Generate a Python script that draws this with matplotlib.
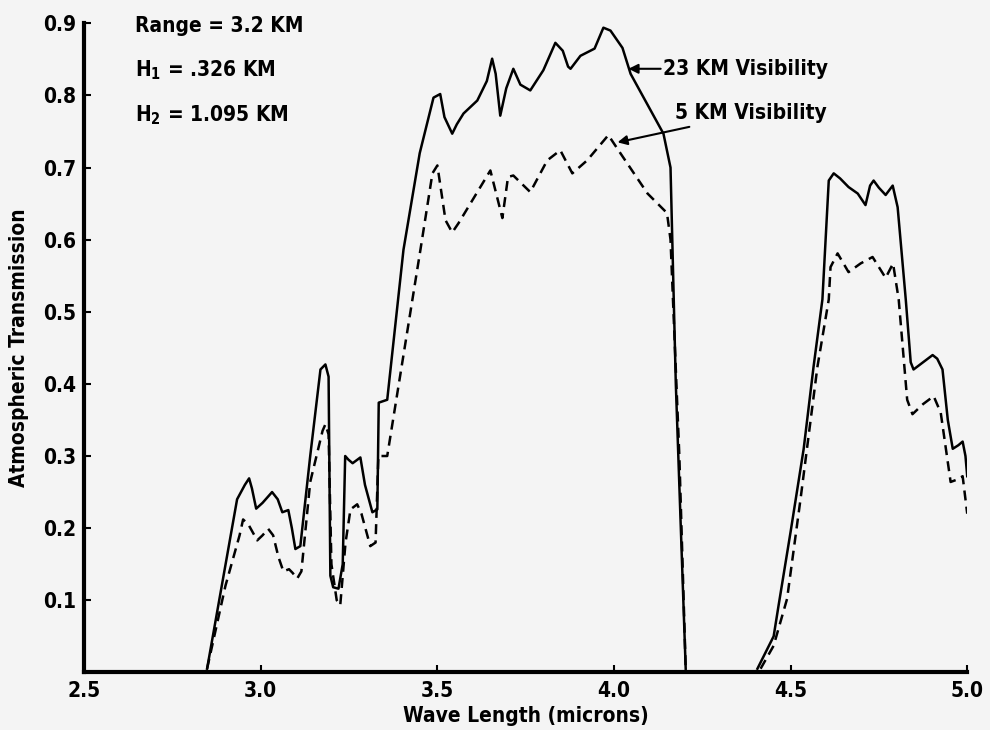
import matplotlib
matplotlib.use("Agg")
import matplotlib.pyplot as plt

plt.rcParams['font.family'] = ['DejaVu Sans']
plt.rcParams['font.stretch'] = 'condensed'
plt.rcParams['font.weight'] = 'bold'
plt.rcParams['axes.labelweight'] = 'bold'
plt.rcParams['mathtext.fontset'] = 'custom'
plt.rcParams['mathtext.rm'] = 'DejaVu Sans:bold:stretch=condensed'
plt.rcParams['mathtext.default'] = 'rm'

# 23 km visibility, first window (solid)
wl_23a = [2.848, 2.933, 2.955, 2.967, 2.975, 2.987, 3.005, 3.032, 3.048, 3.061,
          3.078, 3.088, 3.098, 3.112, 3.140, 3.169, 3.183, 3.192, 3.197, 3.205,
          3.220, 3.232, 3.239, 3.248, 3.260, 3.282, 3.295, 3.316, 3.330, 3.334,
          3.358, 3.404, 3.450, 3.489, 3.508, 3.520, 3.542, 3.555, 3.574, 3.613,
          3.640, 3.655, 3.665, 3.678, 3.695, 3.715, 3.735, 3.763, 3.800, 3.834,
          3.855, 3.870, 3.877, 3.905, 3.945, 3.970, 3.990, 4.024, 4.047, 4.140,
          4.160, 4.175, 4.203]
tr_23a = [0.005, 0.240, 0.260, 0.269, 0.255, 0.227, 0.235, 0.250, 0.240, 0.222,
          0.225, 0.200, 0.171, 0.175, 0.300, 0.420, 0.427, 0.410, 0.134, 0.118,
          0.116, 0.150, 0.300, 0.295, 0.290, 0.298, 0.260, 0.222, 0.226, 0.374,
          0.378, 0.586, 0.720, 0.797, 0.802, 0.770, 0.747, 0.760, 0.775, 0.793,
          0.820, 0.851, 0.830, 0.772, 0.810, 0.837, 0.815, 0.807, 0.835, 0.873,
          0.862, 0.840, 0.837, 0.855, 0.865, 0.894, 0.890, 0.866, 0.830, 0.747,
          0.700, 0.400, 0.005]

# 5 km visibility, first window (dashed)
wl_5a = [2.848, 2.900, 2.940, 2.950, 2.965, 2.990, 3.005, 3.021, 3.035, 3.050,
         3.064, 3.080, 3.090, 3.103, 3.115, 3.140, 3.175, 3.183, 3.192, 3.200,
         3.215, 3.225, 3.240, 3.254, 3.273, 3.285, 3.310, 3.325, 3.333, 3.358,
         3.452, 3.486, 3.500, 3.523, 3.542, 3.560, 3.650, 3.684, 3.700, 3.715,
         3.763, 3.811, 3.848, 3.882, 3.924, 3.984, 4.018, 4.095, 4.150, 4.160,
         4.185, 4.203]
tr_5a = [0.005, 0.120, 0.190, 0.212, 0.205, 0.183, 0.190, 0.199, 0.190, 0.160,
         0.140, 0.143, 0.138, 0.130, 0.140, 0.264, 0.335, 0.344, 0.330, 0.150,
         0.100, 0.093, 0.180, 0.226, 0.233, 0.220, 0.175, 0.180, 0.300, 0.300,
         0.586, 0.692, 0.703, 0.627, 0.610, 0.623, 0.696, 0.630, 0.687, 0.689,
         0.666, 0.710, 0.724, 0.692, 0.710, 0.745, 0.720, 0.664, 0.637, 0.600,
         0.300, 0.005]

# 23 km visibility, second window (solid)
wl_23b = [4.406, 4.452, 4.466, 4.500, 4.537, 4.565, 4.590, 4.608, 4.622, 4.640,
          4.664, 4.690, 4.712, 4.725, 4.735, 4.750, 4.769, 4.789, 4.803, 4.826,
          4.840, 4.848, 4.875, 4.902, 4.915, 4.930, 4.945, 4.959, 4.975, 4.987,
          4.995, 5.000]
tr_23b = [0.005, 0.050, 0.093, 0.195, 0.310, 0.424, 0.517, 0.682, 0.692, 0.685,
          0.673, 0.664, 0.648, 0.675, 0.682, 0.672, 0.662, 0.675, 0.645, 0.517,
          0.430, 0.420, 0.430, 0.440, 0.435, 0.420, 0.350, 0.310, 0.315, 0.320,
          0.300, 0.272]

# 5 km visibility, second window (dashed)
wl_5b = [4.415, 4.452, 4.490, 4.528, 4.576, 4.608, 4.613, 4.633, 4.664, 4.698,
         4.732, 4.769, 4.790, 4.806, 4.830, 4.845, 4.875, 4.905, 4.925, 4.953,
         4.975, 4.987, 5.000]
tr_5b = [0.005, 0.037, 0.102, 0.240, 0.424, 0.517, 0.562, 0.581, 0.555, 0.567,
         0.576, 0.547, 0.567, 0.517, 0.378, 0.358, 0.372, 0.383, 0.360, 0.264,
         0.268, 0.272, 0.220]

x_ticks = [2.5, 3.0, 3.5, 4.0, 4.5, 5.0]
y_ticks = [0.1, 0.2, 0.3, 0.4, 0.5, 0.6, 0.7, 0.8, 0.9]

bg = '#f4f4f4'
fig = plt.figure(figsize=(9.9, 7.3), dpi=100, facecolor=bg)
ax = fig.add_axes([0.085, 0.079, 0.892, 0.889], facecolor=bg)

ax.plot(wl_23a, tr_23a, color='black', lw=1.8)
ax.plot(wl_23b, tr_23b, color='black', lw=1.8)
ax.plot(wl_5a, tr_5a, color='black', lw=1.8, dashes=(4, 2.5))
ax.plot(wl_5b, tr_5b, color='black', lw=1.8, dashes=(4, 2.5))

ax.set_xlim(2.5, 5.0)
ax.set_ylim(0.0, 0.9)
ax.set_xticks(x_ticks)
ax.set_xticklabels([f'{v:.1f}' for v in x_ticks])
ax.set_yticks(y_ticks)
ax.set_yticklabels([f'{v:.1f}' for v in y_ticks])

for side in ['top', 'right']:
    ax.spines[side].set_visible(False)
for side in ['left', 'bottom']:
    ax.spines[side].set_linewidth(3)
ax.tick_params(direction='in', length=5, width=1.5, labelsize=15, pad=6)

ax.set_xlabel('Wave Length (microns)', fontsize=15, labelpad=4)
ax.set_ylabel('Atmospheric Transmission', fontsize=15, labelpad=10)

ax.text(2.644, 0.896, 'Range = 3.2 KM', fontsize=15, va='center')
ax.text(2.644, 0.835, 'H$_1$ = .326 KM', fontsize=15, va='center')
ax.text(2.644, 0.773, 'H$_2$ = 1.095 KM', fontsize=15, va='center')

ax.annotate('23 KM Visibility', xy=(4.041, 0.837), xytext=(4.14, 0.837),
            fontsize=15, va='center',
            arrowprops=dict(arrowstyle='-|>', color='black', lw=1.5,
                            mutation_scale=14, shrinkA=0, shrinkB=0))
ax.annotate('5 KM Visibility', xy=(4.01, 0.735), xytext=(4.174, 0.775),
            fontsize=15, va='center',
            arrowprops=dict(arrowstyle='-|>', color='black', lw=1.5,
                            mutation_scale=14, shrinkA=2, shrinkB=0))

fig.savefig('out.png', dpi=100, facecolor=bg)
